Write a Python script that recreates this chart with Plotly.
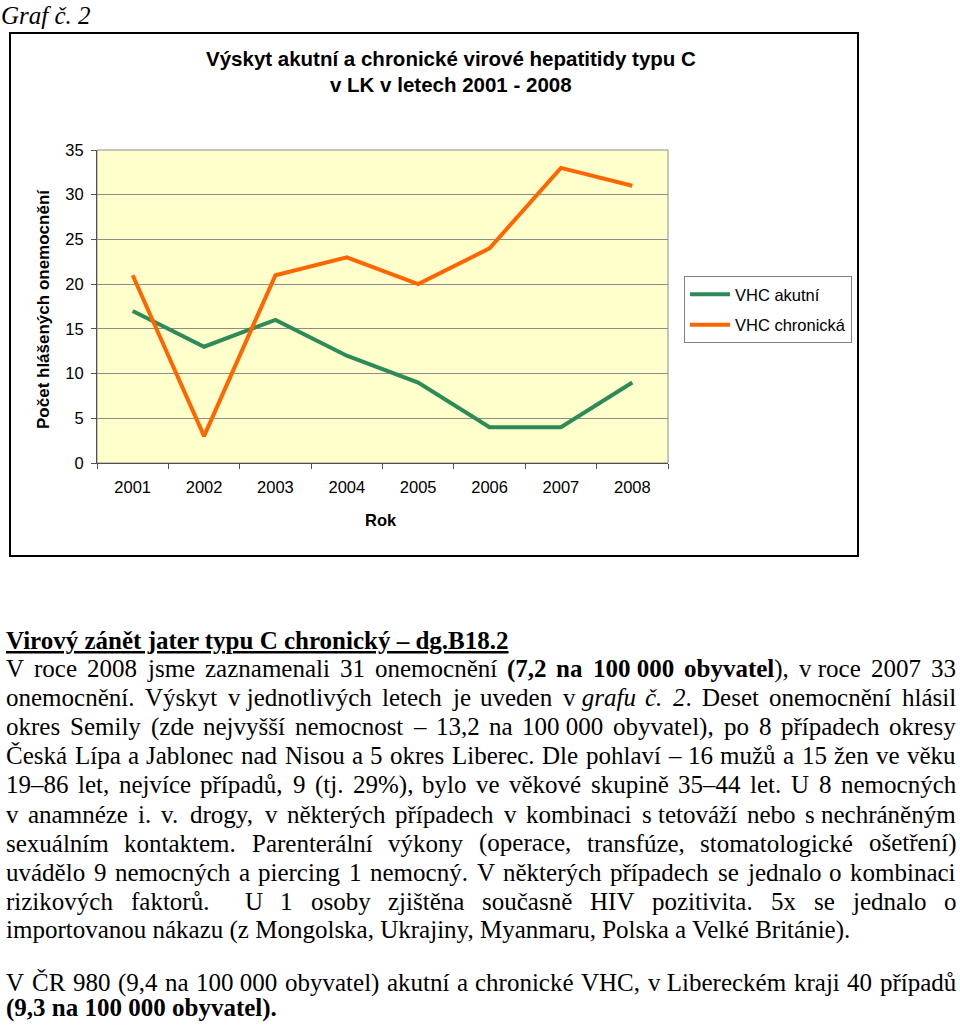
import unicodedata
import plotly.graph_objects as go

# chart data
years = ['2001', '2002', '2003', '2004', '2005', '2006', '2007', '2008']
vhc_akutni = [17, 13, 16, 12, 9, 4, 4, 9]
vhc_chronicka = [21, 3, 21, 23, 20, 24, 33, 31]
series_names = ['VHC akutní', 'VHC chronická']

chart_title = ['Výskyt akutní a chronické virové hepatitidy typu C',
               'v LK v letech 2001 - 2008']
y_title = 'Počet hlášených onemocnění'
x_title = 'Rok'

# document text around the chart
caption = 'Graf č. 2'
heading = 'Virový zánět jater typu C chronický – dg.B18.2'
paragraph_1 = [
    'V roce 2008 jsme zaznamenali 31 onemocnění <b>(7,2 na 100\u00a0000 obyvatel</b>), v\u00a0roce 2007 33',
    'onemocnění. Výskyt v\u00a0jednotlivých letech je uveden v\u00a0<i>grafu č. 2</i>. Deset onemocnění hlásil',
    'okres Semily (zde nejvyšší nemocnost – 13,2 na 100\u00a0000 obyvatel), po 8 případech okresy',
    'Česká Lípa a Jablonec nad Nisou a 5 okres Liberec. Dle pohlaví – 16 mužů a 15 žen ve věku',
    '19–86 let, nejvíce případů, 9 (tj. 29%), bylo ve věkové skupině 35–44 let. U 8 nemocných',
    'v anamnéze i. v. drogy, v některých případech v kombinaci s\u00a0tetováží nebo s\u00a0nechráněným',
    'sexuálním kontaktem. Parenterální výkony (operace, transfúze, stomatologické ošetření)',
    'uvádělo 9 nemocných a piercing 1 nemocný. V některých případech se jednalo o kombinaci',
    'rizikových faktorů.  U 1 osoby zjištěna současně HIV pozitivita. 5x se jednalo o',
    'importovanou nákazu (z Mongolska, Ukrajiny, Myanmaru, Polska a Velké Británie).',
]
paragraph_2 = [
    'V ČR 980 (9,4 na 100\u00a0000 obyvatel) akutní a chronické VHC, v\u00a0Libereckém kraji 40 případů',
    '<b>(9,3 na 100\u00a0000 obyvatel).</b>',
]

W, H = 960, 1033
SERIF = 'Liberation Serif, Times New Roman, serif'
SANS = 'Liberation Sans, Arial, sans-serif'
TEXT_SIZE = 25
BASE_SHIFT = 4.5  # baseline -> annotation middle

# Times New Roman advance widths (1/1000 em), used to justify lines
_reg = dict(zip('abcdefghijklmnopqrstuvwxyz',
                [444, 500, 444, 500, 444, 333, 500, 500, 278, 278, 500, 278, 778,
                 500, 500, 500, 500, 333, 389, 278, 500, 500, 722, 500, 500, 444]))
_reg.update(zip('ABCDEFGHIJKLMNOPQRSTUVWXYZ',
                [722, 667, 667, 722, 611, 556, 722, 722, 333, 389, 722, 611, 889,
                 722, 722, 556, 722, 667, 556, 611, 722, 722, 944, 722, 722, 611]))
_bold = dict(zip('abcdefghijklmnopqrstuvwxyz',
                 [500, 556, 444, 556, 444, 333, 500, 556, 278, 333, 556, 278, 833,
                  556, 500, 556, 556, 444, 389, 333, 556, 500, 722, 500, 500, 444]))
_bold.update(zip('ABCDEFGHIJKLMNOPQRSTUVWXYZ',
                 [722, 667, 722, 722, 667, 611, 778, 778, 389, 500, 778, 667, 944,
                  722, 778, 611, 778, 722, 556, 667, 722, 722, 1000, 722, 722, 667]))
_punct = {' ': 250, '\u00a0': 250, ',': 250, '.': 250, '(': 333, ')': 333,
          '–': 500, '%': 833, '-': 333, ':': 278}
for d in (_reg, _bold):
    d.update({str(n): 500 for n in range(10)})
    d.update(_punct)


def char_width(ch, bold):
    base = unicodedata.normalize('NFD', ch)[0]
    return (_bold if bold else _reg).get(base, 500)


def parse(line):
    """Split a marked-up line into words of (char, bold, italic)."""
    words, cur = [], []
    b = it = False
    i = 0
    while i < len(line):
        for tag, attr, val in (('<b>', 'b', True), ('</b>', 'b', False),
                               ('<i>', 'i', True), ('</i>', 'i', False)):
            if line.startswith(tag, i):
                if attr == 'b':
                    b = val
                else:
                    it = val
                i += len(tag)
                break
        else:
            ch = line[i]
            if ch == ' ':
                words.append(cur)
                cur = []
            else:
                cur.append((ch, b, it))
            i += 1
    words.append(cur)
    return words


def word_markup(word):
    out, i = '', 0
    while i < len(word):
        j = i
        while j < len(word) and word[j][1:] == word[i][1:]:
            j += 1
        t = ''.join(c for c, _, _ in word[i:j])
        if word[i][2]:
            t = '<i>' + t + '</i>'
        if word[i][1]:
            t = '<b>' + t + '</b>'
        out += t
        i = j
    return out


annotations = []


def add_text(x, y, text, size, family=SERIF, xanchor='left', **kw):
    annotations.append(dict(x=x / W, y=1 - y / H, xref='paper', yref='paper',
                            text=text, showarrow=False, xanchor=xanchor,
                            yanchor='middle', borderpad=0,
                            font=dict(size=size, family=family, color='black'), **kw))


def add_justified(line, baseline, left=5, right=955):
    words = parse(line)
    widths = [sum(char_width(c, b) for c, b, _ in w) * TEXT_SIZE / 1000 for w in words]
    gap = (right - left - sum(widths)) / (len(words) - 1)
    x = left
    for w, wd in zip(words, widths):
        if w:
            add_text(x, baseline - BASE_SHIFT, word_markup(w), TEXT_SIZE)
        x += wd + gap


# --- document text ---
add_text(0, 16, '<i>' + caption + '</i>', TEXT_SIZE)
annotations.append(dict(x=5 / W, y=1 - (645 - BASE_SHIFT) / H, xref='paper', yref='paper',
                        text='<b>' + heading + '</b>', showarrow=False,
                        xanchor='left', yanchor='middle', borderpad=0,
                        font=dict(size=TEXT_SIZE, family=SERIF, color='black',
                                  lineposition='under')))
for k, line in enumerate(paragraph_1):
    base = 673 + k * 29.1
    if k < len(paragraph_1) - 1:
        add_justified(line, base)
    else:
        add_text(5, base - BASE_SHIFT, line, TEXT_SIZE)
add_justified(paragraph_2[0], 987)
add_text(5, 1012 - BASE_SHIFT, paragraph_2[1], TEXT_SIZE)

# --- chart texts ---
add_text(451, 59, '<b>' + chart_title[0] + '</b>', 20.5, SANS, xanchor='center')
add_text(451, 85, '<b>' + chart_title[1] + '</b>', 20.5, SANS, xanchor='center')
add_text(43, 309, '<b>' + y_title + '</b>', 17, SANS, xanchor='center', textangle=-90)
add_text(381, 520, '<b>' + x_title + '</b>', 16.5, SANS, xanchor='center')

fig = go.Figure()
for name, vals, color in [(series_names[0], vhc_akutni, '#2E8B57'),
                          (series_names[1], vhc_chronicka, '#FF6600')]:
    fig.add_trace(go.Scatter(
        x=years, y=vals, name=name, mode='lines', legendgroup=name,
        line=dict(color=color, width=4)
    ))

px0, px1, py0, py1 = 97, 668, 150, 463
fig.update_layout(
    width=W, height=H, autosize=False,
    margin=dict(l=0, r=0, t=0, b=0, autoexpand=False),
    paper_bgcolor='white', plot_bgcolor='#FFFFCC',
    showlegend=True,
    legend=dict(x=684 / W, y=1 - 276 / H, xanchor='left', yanchor='top',
                bgcolor='white', bordercolor='#808080', borderwidth=1,
                font=dict(size=16.5, family=SANS, color='black'),
                tracegroupgap=6, itemwidth=40),
    xaxis=dict(domain=[px0 / W, px1 / W], type='category', range=[-0.5, 7.5],
               showgrid=False, showline=True, linecolor='#505050', linewidth=1,
               ticks='outside', tickson='boundaries', ticklen=5, tickcolor='#505050',
               ticklabelstandoff=9, zeroline=False, automargin=False,
               tickfont=dict(size=16.5, family=SANS, color='black')),
    yaxis=dict(domain=[1 - py1 / H, 1 - py0 / H], range=[0, 35], dtick=5,
               showgrid=True, gridcolor='#8C8C8C', gridwidth=1,
               showline=True, linecolor='#505050', linewidth=1, zeroline=False,
               ticks='outside', ticklen=5, tickcolor='#505050', ticklabelstandoff=4,
               automargin=False,
               tickfont=dict(size=16.5, family=SANS, color='black')),
    annotations=annotations,
    shapes=[
        dict(type='rect', xref='paper', yref='paper', layer='below',
             x0=px0 / W, x1=px1 / W, y0=1 - py1 / H, y1=1 - py0 / H,
             line=dict(color='#8C8C8C', width=1)),
        dict(type='rect', xref='paper', yref='paper',
             x0=10 / W, x1=858 / W, y0=1 - 556 / H, y1=1 - 33 / H,
             line=dict(color='black', width=2)),
    ],
)

# page body margin would push the fixed-size figure off the window
fig.write_html('out.html', config=dict(displayModeBar=False),
               post_script="document.body.style.margin='0';document.body.style.overflow='hidden';")
